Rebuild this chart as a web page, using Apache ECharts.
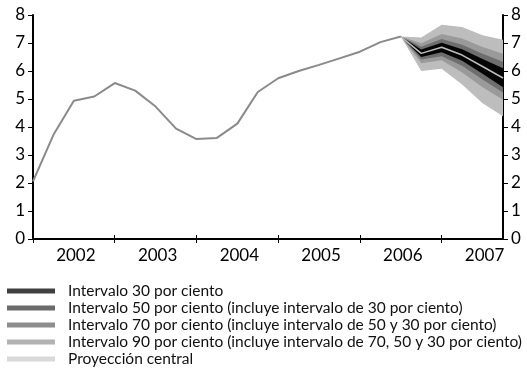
<!DOCTYPE html>
<html>
<head>
<meta charset="utf-8">
<script src="https://cdn.jsdelivr.net/npm/echarts@6/dist/echarts.min.js"></script>
<style>
    html, body { margin: 0; padding: 0; background: #fff; }
    #chart { width: 527px; height: 389px; }
</style>
</head>
<body>
<div id="chart"></div>
<script>
// trimestres 2002T1 .. 2007T4
const quarters = [];
for (let y = 2002; y <= 2007; y += 1)
    for (let q = 1; q <= 4; q += 1)
        quarters.push(y + 'T' + q);

const yTicks = [0, 1, 2, 3, 4, 5, 6, 7, 8];

// historia (2002T1 .. 2006T3)
const history = [2.06, 3.72, 4.94, 5.09, 5.57, 5.30, 4.73, 3.94, 3.57, 3.61, 4.12, 5.25,
    5.74, 6.00, 6.22, 6.45, 6.69, 7.03, 7.23];

// proyeccion desde 2006T3 hasta 2007T4
const fanStart = 18;
const central = [7.23, 6.63, 6.85, 6.57, 6.16, 5.75];
const up30 = [7.23, 6.77, 7.01, 6.78, 6.43, 6.10];
const lo30 = [7.23, 6.50, 6.67, 6.37, 5.90, 5.42];
const up50 = [7.23, 6.87, 7.14, 6.94, 6.62, 6.33];
const lo50 = [7.23, 6.41, 6.53, 6.19, 5.70, 5.23];
const up70 = [7.23, 6.99, 7.32, 7.16, 6.86, 6.62];
const lo70 = [7.23, 6.28, 6.38, 5.95, 5.42, 4.97];
const up90 = [7.23, 7.20, 7.65, 7.57, 7.28, 7.12];
const lo90 = [7.23, 6.00, 6.08, 5.52, 4.85, 4.38];

const legendNames = [
    'Intervalo 30 por ciento',
    'Intervalo 50 por ciento (incluye intervalo de 30 por ciento)',
    'Intervalo 70 por ciento (incluye intervalo de 50 y 30 por ciento)',
    'Intervalo 90 por ciento (incluye intervalo de 70, 50 y 30 por ciento)',
    'Proyección central'
];
const legendColors = ['#404040', '#6b6b6b', '#8e8e8e', '#b2b2b2', '#d9d9d9'];

const font = 'Lato';

const pad = (arr) => {
    const out = quarters.map(() => null);
    arr.forEach((v, i) => {
        out[fanStart + i] = v;
    });
    return out;
};

const band = (name, lo, up, color, key) => {
    return [{
        type: 'line',
        stack: key,
        data: pad(lo),
        symbol: 'none',
        silent: true,
        lineStyle: {opacity: 0},
        z: 2
    }, {
        name: name,
        type: 'line',
        stack: key,
        data: pad(up.map((v, i) => +(v - lo[i]).toFixed(2))),
        symbol: 'none',
        silent: true,
        lineStyle: {opacity: 0},
        areaStyle: {color: color, opacity: 1},
        z: 2
    }];
};

const histData = quarters.map((q, i) => i < history.length ? history[i] : null);

const yAxisBase = {
    type: 'value',
    min: 0,
    max: 8,
    interval: 1,
    splitLine: {show: false},
    axisLine: {show: true, lineStyle: {color: '#000', width: 2}},
    axisTick: {show: true, length: 5, lineStyle: {color: '#000', width: 1}},
    axisLabel: {color: '#000', fontFamily: font, fontSize: 17, margin: 8}
};

const chart = echarts.init(document.getElementById('chart'), null, {renderer: 'canvas'});

chart.setOption({
    animation: false,
    backgroundColor: '#fff',
    grid: {left: 33, right: 24, top: 15, bottom: 150},
    legend: {
        orient: 'vertical',
        left: 7,
        top: 283,
        padding: 0,
        icon: 'rect',
        itemWidth: 48,
        itemHeight: 5,
        itemGap: 1,
        selectedMode: false,
        textStyle: {fontFamily: font, fontSize: 15.5, lineHeight: 15.5, color: '#111', padding: [0, 0, 0, 8]},
        data: legendNames.map((n, i) => ({name: n, itemStyle: {color: legendColors[i]}}))
    },
    xAxis: [{
        type: 'category',
        data: quarters,
        boundaryGap: false,
        axisLine: {show: true, onZero: false, lineStyle: {color: '#000', width: 2}},
        axisTick: {show: true, length: 4, interval: (i) => i % 4 === 0, lineStyle: {color: '#000'}},
        axisLabel: {
            interval: (i) => i % 4 === 2,
            formatter: (v) => v.slice(0, 4),
            color: '#000', fontFamily: font, fontSize: 17, margin: 8,
            padding: [0, 0, 0, 4]
        }
    }, {
        type: 'category',
        data: quarters,
        boundaryGap: false,
        position: 'bottom',
        axisLine: {show: false},
        axisTick: {show: true, inside: true, length: 4, interval: (i) => i % 4 === 0, lineStyle: {color: '#000'}},
        axisLabel: {show: false}
    }],
    yAxis: [
        Object.assign({}, yAxisBase, {position: 'left'}),
        Object.assign({}, yAxisBase, {position: 'right'})
    ],
    series: [
        ...band(legendNames[3], lo90, up90, '#bdbdbd', 'b90'),
        ...band(legendNames[2], lo70, up70, '#9a9a9a', 'b70'),
        ...band(legendNames[1], lo50, up50, '#6e6e6e', 'b50'),
        ...band(legendNames[0], lo30, up30, '#050505', 'b30'),
        {
            name: legendNames[4],
            type: 'line',
            data: pad(central),
            symbol: 'none',
            silent: true,
            lineStyle: {color: '#bcbcbc', width: 1.5},
            z: 3
        },
        {
            type: 'line',
            data: histData,
            symbol: 'none',
            silent: true,
            lineStyle: {color: '#8a8a8a', width: 2},
            z: 3
        }
    ]
});
</script>
</body>
</html>
